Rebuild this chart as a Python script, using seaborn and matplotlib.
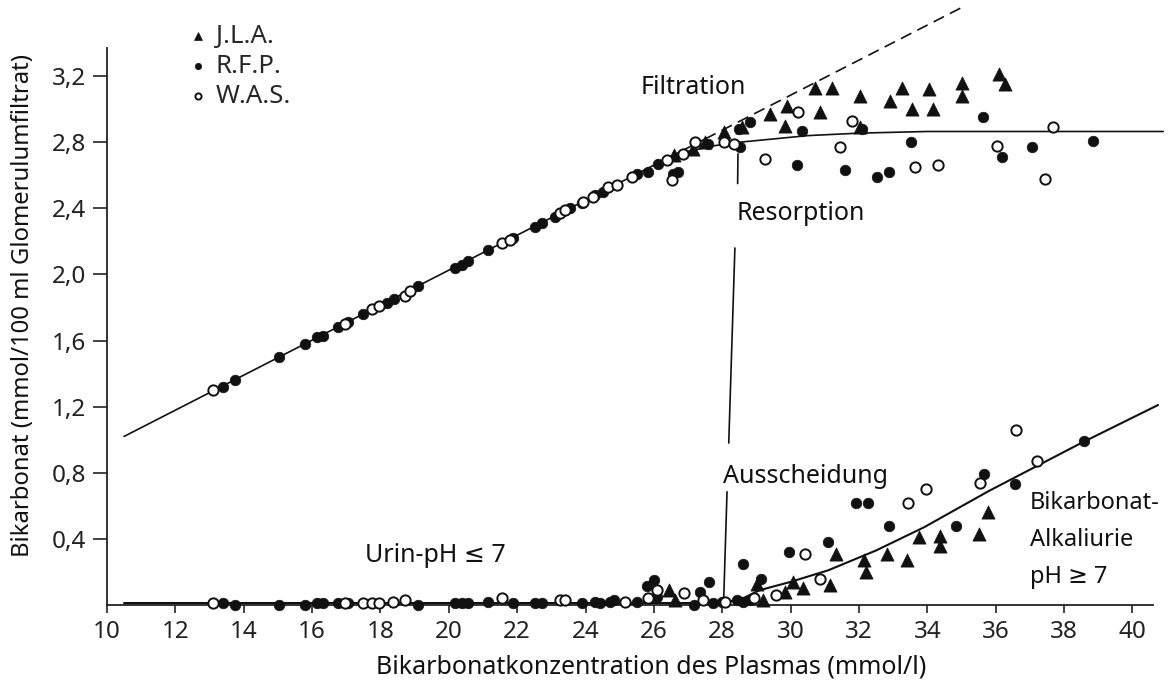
import numpy as np
import pandas as pd
import matplotlib
matplotlib.use('Agg')
import matplotlib.pyplot as plt
import seaborn as sns
from matplotlib.ticker import FuncFormatter

# -------------------------------------------------------
# Data (x: plasma HCO3 mmol/l, y: mmol/100 ml GFR)
# -------------------------------------------------------
# J.L.A. (filled triangles)
jla_top_x = [26.60, 27.15, 27.50, 28.04, 28.57, 29.40, 29.84, 29.89, 30.72, 30.87, 31.21,
             32.04, 32.04, 32.91, 33.25, 33.55, 34.04, 34.18, 35.01, 35.01, 36.09, 36.28]
jla_top_y = [2.72, 2.76, 2.80, 2.86, 2.89, 2.97, 2.90, 3.02, 3.13, 2.98, 3.13,
             3.08, 2.89, 3.05, 3.13, 3.00, 3.12, 3.00, 3.16, 3.08, 3.21, 3.15]
jla_bot_x = [26.45, 26.63, 29.01, 29.19, 29.85, 30.08, 30.35, 31.16, 31.34, 32.15,
             32.21, 32.83, 33.41, 33.76, 34.36, 34.36, 35.52, 35.76]
jla_bot_y = [0.09, 0.03, 0.13, 0.03, 0.08, 0.14, 0.10, 0.12, 0.31, 0.27,
             0.20, 0.31, 0.27, 0.41, 0.42, 0.36, 0.43, 0.56]

# R.F.P. (filled circles)
rfp_top_x = [13.38, 13.75, 15.04, 15.79, 16.15, 16.31, 16.77, 17.06, 17.50, 18.18, 18.40,
             19.11, 20.18, 20.38, 20.57, 21.16, 21.89, 22.53, 22.72, 23.11, 23.55, 23.89,
             24.28, 24.52, 25.50, 25.84, 26.13, 26.57, 26.72, 27.59, 28.48, 28.53, 28.82,
             30.20, 30.33, 31.60, 32.09, 32.52, 32.87, 33.52, 35.62, 36.18, 37.06, 38.85]
rfp_top_y = [1.32, 1.36, 1.50, 1.58, 1.62, 1.63, 1.68, 1.71, 1.76, 1.83, 1.85,
             1.93, 2.04, 2.06, 2.08, 2.15, 2.22, 2.29, 2.31, 2.35, 2.40, 2.43,
             2.48, 2.50, 2.61, 2.62, 2.67, 2.61, 2.62, 2.79, 2.88, 2.77, 2.92,
             2.66, 2.87, 2.63, 2.88, 2.59, 2.62, 2.80, 2.95, 2.71, 2.77, 2.81]
rfp_bot_x = [13.38, 13.75, 15.04, 15.79, 16.15, 16.31, 16.77, 17.06, 19.11, 20.18, 20.38,
             20.57, 21.16, 21.89, 22.53, 22.72, 23.89, 24.28, 24.43, 24.72, 24.82, 25.50,
             25.81, 26.00, 26.08, 27.16, 27.36, 27.60, 27.74, 27.99, 28.43, 28.60, 28.62,
             28.82, 29.13, 29.94, 31.08, 31.92, 32.27, 32.87, 34.83, 35.67, 36.55, 38.57]
rfp_bot_y = [0.01, 0.00, 0.00, 0.00, 0.01, 0.015, 0.01, 0.01, 0.00, 0.01, 0.01,
             0.015, 0.02, 0.01, 0.01, 0.015, 0.01, 0.02, 0.01, 0.02, 0.03, 0.02,
             0.115, 0.15, 0.05, 0.00, 0.08, 0.14, 0.01, 0.02, 0.03, 0.25, 0.02,
             0.03, 0.155, 0.32, 0.38, 0.62, 0.62, 0.48, 0.48, 0.79, 0.73, 0.99]

# W.A.S. (open circles)
was_top_x = [13.11, 16.97, 17.75, 17.96, 18.72, 18.87, 21.55, 21.80, 23.26, 23.40, 23.94,
             24.23, 24.67, 24.92, 25.35, 26.38, 26.52, 26.86, 27.21, 28.04, 28.33, 29.26,
             30.23, 31.45, 31.79, 33.65, 34.31, 36.03, 37.43, 37.69]
was_top_y = [1.30, 1.70, 1.79, 1.81, 1.87, 1.90, 2.19, 2.21, 2.37, 2.39, 2.44,
             2.47, 2.53, 2.54, 2.59, 2.69, 2.57, 2.73, 2.80, 2.80, 2.79, 2.70,
             2.98, 2.77, 2.93, 2.65, 2.66, 2.78, 2.58, 2.89]
was_bot_x = [13.11, 16.97, 17.50, 17.75, 17.96, 18.38, 18.72, 21.55, 23.26, 23.40, 25.16,
             25.84, 26.08, 26.87, 27.45, 28.08, 28.92, 29.56, 30.41, 30.87, 33.43, 33.95,
             35.55, 36.59, 37.21]
was_bot_y = [0.01, 0.01, 0.015, 0.015, 0.01, 0.02, 0.03, 0.04, 0.03, 0.03, 0.02,
             0.04, 0.09, 0.07, 0.03, 0.02, 0.04, 0.06, 0.31, 0.16, 0.62, 0.70,
             0.74, 1.06, 0.87]

# curves drawn in the figure
filt_x = [10.5, 27.5]
filt_y = [1.02, 2.82]
filt_dash_x = [27.5, 35.05]
filt_dash_y = [2.82, 3.62]
resorp_x = [26.3, 27.0, 27.8, 28.5, 29.5, 30.5, 32.0, 34.0, 40.9]
resorp_y = [2.69, 2.745, 2.78, 2.80, 2.82, 2.84, 2.855, 2.865, 2.865]
excr_x = [10.5, 28.0, 28.6, 29.1, 30.0, 31.1, 32.5, 33.9, 35.8, 38.5, 40.75]
excr_y = [0.012, 0.012, 0.04, 0.09, 0.14, 0.21, 0.33, 0.47, 0.69, 0.98, 1.21]

# threshold marker (interrupted vertical line)
thr_segments = [([28.46, 28.45], [2.73, 2.55]),
                ([28.37, 28.19], [2.16, 0.98]),
                ([28.14, 28.04], [0.685, 0.02])]

x_ticks = list(range(10, 41, 2))
y_ticks = [0.4, 0.8, 1.2, 1.6, 2.0, 2.4, 2.8, 3.2]

# -------------------------------------------------------
# Plot
# -------------------------------------------------------
sns.set_style('ticks')
plt.rcParams['font.family'] = ['Noto Sans', 'DejaVu Sans']
ink = '#111111'

fig = plt.figure(figsize=(11.73, 6.89), dpi=100)
ax = fig.add_axes([0.0912, 0.1219, 0.8917, 0.8084])

lw = 1.2
sns.lineplot(x=filt_x, y=filt_y, ax=ax, color=ink, lw=lw, sort=False, estimator=None)
sns.lineplot(x=filt_dash_x, y=filt_dash_y, ax=ax, color=ink, lw=lw, sort=False,
             estimator=None, linestyle=(0, (7, 4)), clip_on=False)
sns.lineplot(x=resorp_x, y=resorp_y, ax=ax, color=ink, lw=lw, sort=False,
             estimator=None, clip_on=False)
sns.lineplot(x=excr_x, y=excr_y, ax=ax, color=ink, lw=lw + 0.3, sort=False,
             estimator=None, clip_on=False)
for sx, sy in thr_segments:
    ax.plot(sx, sy, color=ink, lw=lw)

sns.scatterplot(x=jla_top_x + jla_bot_x, y=jla_top_y + jla_bot_y, ax=ax, marker='^',
                color=ink, edgecolor=ink, linewidth=0.5, s=90, label='J.L.A.',
                clip_on=False, zorder=3)
sns.scatterplot(x=rfp_top_x + rfp_bot_x, y=rfp_top_y + rfp_bot_y, ax=ax, marker='o',
                color=ink, edgecolor=ink, linewidth=0.5, s=58, label='R.F.P.',
                clip_on=False, zorder=3)
sns.scatterplot(x=was_top_x + was_bot_x, y=was_top_y + was_bot_y, ax=ax, marker='o',
                color='white', edgecolor=ink, linewidth=1.4, s=55, label='W.A.S.',
                clip_on=False, zorder=3)

ax.set_xlim(10, 40.6)
ax.set_ylim(0, 3.37)
ax.set_xticks(x_ticks)
ax.set_yticks(y_ticks)
ax.yaxis.set_major_formatter(FuncFormatter(lambda v, p: f'{v:.1f}'.replace('.', ',')))
ax.tick_params(axis='x', length=6, width=1.2, pad=5, labelsize=17.5, colors='#222222')
ax.tick_params(axis='y', length=10, width=1.2, pad=5, labelsize=17.5, colors='#222222')
sns.despine(ax=ax)
for sp in ['left', 'bottom']:
    ax.spines[sp].set_linewidth(1.3)
    ax.spines[sp].set_color('#222222')

ax.set_xlabel('Bikarbonatkonzentration des Plasmas (mmol/l)', fontsize=18, color=ink)
ax.set_ylabel('Bikarbonat (mmol/100 ml Glomerulumfiltrat)', fontsize=17.2, color=ink)
ax.xaxis.set_label_coords(0.52, -0.111)
ax.xaxis.label.set_va('center')
ax.yaxis.set_label_coords(-0.080, 0.537)
ax.yaxis.label.set_va('center')

txt = dict(fontsize=18, color=ink, va='center', ha='left')
ax.text(25.6, 3.13, 'Filtration', **txt)
ax.text(28.43, 2.37, 'Resorption', **txt)
ax.text(28.02, 0.776, 'Ausscheidung', **txt)
ax.text(17.55, 0.30, 'Urin-pH ≤ 7', **txt)
side = dict(txt, fontsize=17)
ax.text(37.0, 0.617, 'Bikarbonat-', **side)
ax.text(37.0, 0.393, 'Alkaliurie', **side)
ax.text(37.0, 0.17, 'pH ≥ 7', **side)

ax.legend(loc='upper left', bbox_to_anchor=(0.066, 1.062), frameon=False, fontsize=18.5,
          handletextpad=0.25, labelspacing=0.2, markerscale=0.6, borderaxespad=0,
          handlelength=0.9)

fig.savefig('out.png', dpi=100)
plt.close(fig)
